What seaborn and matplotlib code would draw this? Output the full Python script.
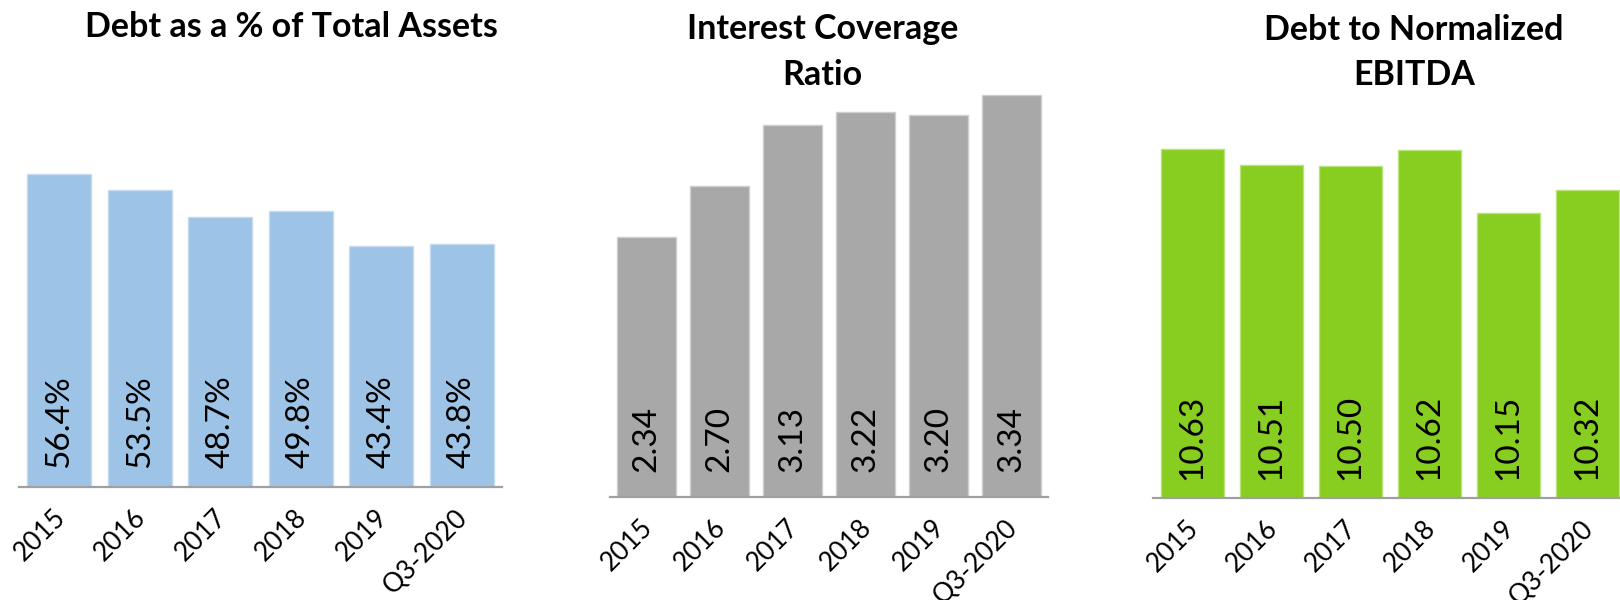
import matplotlib
matplotlib.use("Agg")
import matplotlib.pyplot as plt
import matplotlib.transforms as mtransforms
import seaborn as sns
import pandas as pd

# ---- data ----
categories = ["2015", "2016", "2017", "2018", "2019", "Q3-2020"]
debt_pct_assets = [56.4, 53.5, 48.7, 49.8, 43.4, 43.8]
interest_coverage = [2.34, 2.70, 3.13, 3.22, 3.20, 3.34]
debt_to_ebitda = [10.63, 10.51, 10.50, 10.62, 10.15, 10.32]
titles = [["Debt as a % of Total Assets"],
          ["Interest Coverage", "Ratio"],
          ["Debt to Normalized", "EBITDA"]]
label_formats = ["{:.1f}%", "{:.2f}", "{:.2f}"]

sns.set_theme(style="white")
plt.rcParams["font.family"] = ["Lato", "DejaVu Sans"]

W, H = 1620, 600
fig = plt.figure(figsize=(W / 100, H / 100), dpi=100)
fig.patch.set_facecolor("white")

panels = [
    dict(values=debt_pct_assets, color="#9DC3E6", edge="#C5DCF0",
         rect=[19 / W, (H - 487) / H, 483 / W, 388 / H], ylim=(0, 70),
         title_x=291, title_baselines=[37], label_gap=19),
    dict(values=interest_coverage, color="#A8A8A8", edge="#CFCFCF",
         rect=[610 / W, (H - 497) / H, 438 / W, 424.5 / H], ylim=(0.5, 3.5),
         title_x=822.5, title_baselines=[39, 85], label_gap=25),
    dict(values=debt_to_ebitda, color="#87CE21", edge="#B8E27C",
         rect=[1153 / W, (H - 498) / H, 474 / W, 398 / H], ylim=(8, 11),
         title_x=1414, title_baselines=[40, 85], label_gap=18),
]

for p, title_lines, fmt in zip(panels, titles, label_formats):
    ax = fig.add_axes(p["rect"])
    df = pd.DataFrame({"cat": categories, "val": p["values"]})
    sns.barplot(data=df, x="cat", y="val", ax=ax, color=p["color"],
                width=0.8, edgecolor=p["edge"], linewidth=1.0, saturation=1)
    ax.set_xlim(-0.5, len(categories) - 0.5)
    ax.set_ylim(*p["ylim"])
    ax.set_xlabel("")
    ax.set_ylabel("")
    ax.set_yticks([])
    for s in ["top", "right", "left"]:
        ax.spines[s].set_visible(False)
    ax.spines["bottom"].set_color("#A0A0A0")
    ax.spines["bottom"].set_linewidth(1.6)
    # category-boundary ticks (Excel style)
    ax.set_xticks([i - 0.5 for i in range(len(categories) + 1)], minor=True)
    ax.tick_params(axis="x", which="minor", length=8, width=1.6, color="#A0A0A0", direction="out")
    ax.tick_params(axis="x", which="major", length=0, pad=19)
    ax.set_xticks(range(len(categories)))
    ax.set_xticklabels(categories, fontsize=19, color="black")
    offset = mtransforms.ScaledTranslation(2 / 100, 0, fig.dpi_scale_trans)
    for lab in ax.get_xticklabels():
        lab.set_rotation(45)
        lab.set_ha("right")
        lab.set_va("center")
        lab.set_rotation_mode("anchor")
        lab.set_transform(lab.get_transform() + offset)
    # value labels at the base of each bar, rotated
    ymin = ax.get_ylim()[0]
    for bar, v in zip(ax.patches, p["values"]):
        x = bar.get_x() + bar.get_width() / 2
        ax.annotate(fmt.format(v), xy=(x, ymin), xytext=(0, p["label_gap"]),
                    textcoords="offset pixels", rotation=90,
                    ha="center", va="bottom", fontsize=24, color="black")
    for line, base in zip(title_lines, p["title_baselines"]):
        fig.text(p["title_x"] / W, 1 - base / H, line, ha="center", va="baseline",
                 fontsize=24.5, fontweight="bold", color="black")

fig.savefig("out.png", dpi=100, facecolor="white")
